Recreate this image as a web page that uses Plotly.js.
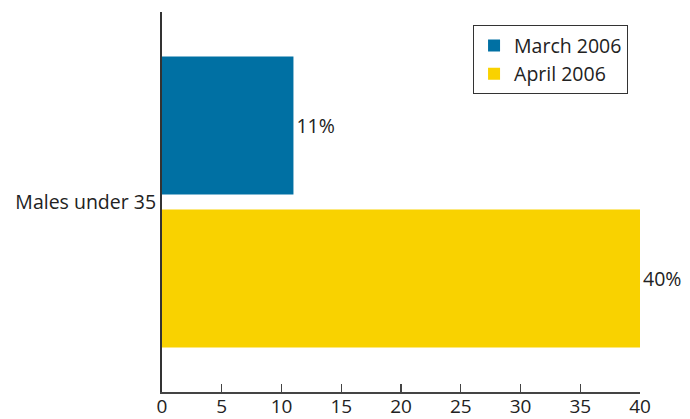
<!DOCTYPE html>
<html>
<head>
<meta charset="utf-8">
<script src="https://cdn.plot.ly/plotly-3.0.1.min.js"></script>
<style>html,body{margin:0;padding:0;background:#fff;}#chart{width:690px;height:419px;}</style>
</head>
<body>
<div id="chart"></div>
<script>
var categories = ["Males under 35"];
var seriesNames = ["March 2006", "April 2006"];
var marchValues = [11];
var aprilValues = [40];
var marchLabels = ["11%"];
var aprilLabels = ["40%"];
var xTicks = [0, 5, 10, 15, 20, 25, 30, 35, 40];

var font = {family: "Open Sans, sans-serif", size: 19.5, color: "#222"};
var tickFontX = {family: "Open Sans, sans-serif", size: 19, color: "#222"};

var traces = [
  {type: "bar", orientation: "h", name: seriesNames[0], y: categories, x: marchValues,
   text: marchLabels, textposition: "outside", cliponaxis: false,
   textfont: font, marker: {color: "#0070a3"}, hoverinfo: "none"},
  {type: "bar", orientation: "h", name: seriesNames[1], y: categories, x: aprilValues,
   text: aprilLabels, textposition: "outside", cliponaxis: false,
   textfont: font, marker: {color: "#f9d200"}, hoverinfo: "none"}
];

var layout = {
  width: 690, height: 419,
  margin: {l: 162, r: 50, t: 12, b: 27},
  paper_bgcolor: "#fff", plot_bgcolor: "#fff",
  font: font,
  barmode: "group",
  bargap: 0.195,
  bargroupgap: 0.098,
  showlegend: true,
  legend: {x: 0.975, xanchor: "right", y: 0.965, yanchor: "top",
           bordercolor: "#333", borderwidth: 1, bgcolor: "#fff",
           font: font, traceorder: "normal", tracegroupgap: 0},
  xaxis: {range: [0, 40], tickvals: xTicks, ticks: "inside", ticklen: 8, tickwidth: 1.3,
          tickcolor: "#444", showline: true, linecolor: "#444", linewidth: 2,
          showgrid: false, zeroline: false, tickfont: tickFontX, fixedrange: true,
          ticklabelstandoff: -4},
  yaxis: {autorange: "reversed", showline: true, linecolor: "#333", linewidth: 2,
          ticks: "", showgrid: false, zeroline: false, tickfont: font, fixedrange: true}
};

Plotly.newPlot("chart", traces, layout, {displayModeBar: false, staticPlot: true});
</script>
</body>
</html>
